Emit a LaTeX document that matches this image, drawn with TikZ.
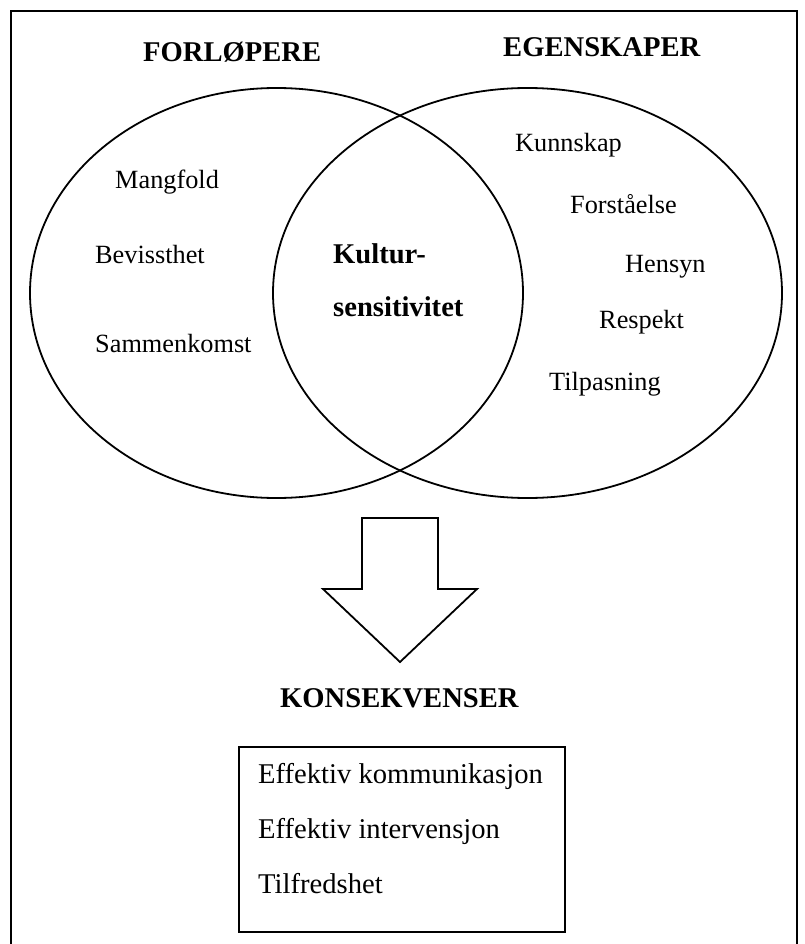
\documentclass[tikz,border=0pt]{standalone}
\usepackage{fontspec}
\setmainfont{Liberation Serif}
\begin{document}
\begin{tikzpicture}[x=1pt,y=-1pt,
  item/.style={anchor=base west,inner sep=0pt,font=\fontsize{26.3}{30}\selectfont},
  head/.style={anchor=base west,inner sep=0pt,font=\fontsize{28.6}{32}\selectfont\bfseries},
  boxitem/.style={anchor=base west,inner sep=0pt,font=\fontsize{28.6}{32}\selectfont},
  line/.style={draw=black,line width=1.8pt}]
\useasboundingbox (0,0) rectangle (804,944);
% frame (bottom edge outside the picture)
\draw[line width=2pt] (11,960) -- (11,11) -- (797,11) -- (797,960);
% ellipses
\draw[line] (276.5,293) ellipse [x radius=246.5, y radius=205];
\draw[line] (527.5,293) ellipse [x radius=254.5, y radius=205];
% headings
\node[head] (forl) at (143,62) {FORLØPERE};
\node[head] (egen) at (503,57) {EGENSKAPER};
% left items
\node[item] (mang) at (115,188) {Mangfold};
\node[item] (bev) at (95,263) {Bevissthet};
\node[item] (samm) at (95,352) {Sammenkomst};
% centre
\node[head] (kult) at (333,263) {Kultur-};
\node[head] (sens) at (333,316) {sensitivitet};
% right items
\node[item] (kunn) at (515,152) {Kunnskap};
\node[item] (fors) at (570,213) {Forståelse};
\node[item] (hens) at (625,272) {Hensyn};
\node[item] (resp) at (599,328) {Respekt};
\node[item] (tilp) at (549,390) {Tilpasning};
% arrow
\draw[line,line join=miter] (362,518) -- (438,518) -- (438,589) -- (477,589) -- (400,662)
  -- (323,589) -- (362,589) -- cycle;
% consequences
\node[head] (kons) at (280,707) {KONSEKVENSER};
\draw[line width=1.4pt] (239,747) rectangle (565,932);
\node[boxitem] (eff1) at (258,783) {Effektiv kommunikasjon};
\node[boxitem] (eff2) at (258,838) {Effektiv intervensjon};
\node[boxitem] (tilf) at (258,893) {Tilfredshet};
\end{tikzpicture}
\end{document}
